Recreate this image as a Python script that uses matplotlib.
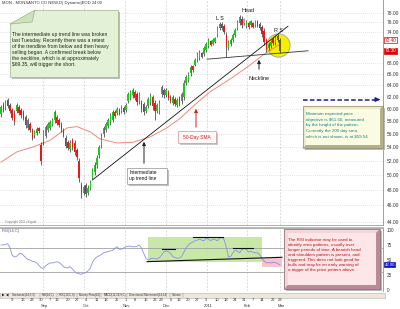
import matplotlib
matplotlib.use("Agg")
import matplotlib.pyplot as plt
import numpy as np
from matplotlib.patches import Rectangle, Polygon
from matplotlib.transforms import blended_transform_factory as blend
from matplotlib.ticker import FixedLocator, NullLocator, NullFormatter

plt.rcParams['font.family'] = ['Liberation Sans', 'DejaVu Sans']

# ---------------- data ----------------
opens = [59.1,60.8,60.2,61.5,60.6,59.8,59.2,59.6,60.3,59.8,
         59.5,58.6,56.9,57.5,56.5,55.6,56.1,56.9,54.3,54.8,
         55.7,56.6,56.9,57.5,58.1,58.6,58.2,57.5,56.6,55.4,
         54.7,53.7,55.0,54.6,53.5,52.0,48.7,47.6,48.6,47.6,
         48.3,49.6,50.4,51.4,52.8,54.3,55.9,56.6,57.2,57.8,
         58.2,59.5,59.2,59.9,59.6,60.1,59.7,61.3,61.8,62.2,
         62.8,62.4,61.2,61.0,60.7,59.6,60.5,61.1,61.9,60.9,
         59.6,59.6,62.4,63.1,62.3,62.8,62.0,61.0,61.6,60.6,
         61.8,61.2,62.0,64.4,64.9,66.1,67.4,67.7,68.6,68.9,
         69.8,69.7,70.4,71.2,72.2,71.7,72.0,73.4,74.8,75.7,
         75.2,73.4,70.8,71.6,72.4,73.4,74.8,75.8,76.8,76.6,
         75.2,75.9,75.4,75.8,75.4,76.2,75.7,75.0,74.2,72.4,
         70.8,71.2,72.7,71.8,73.2,72.4]
highs = [60.6,61.1,61.4,61.8,60.9,60.1,59.8,60.9,60.6,60.1,
         59.8,58.9,58.5,57.8,56.9,56.6,57.1,57.1,54.7,56.6,
         57.4,57.8,58.1,58.5,59.8,58.9,58.5,57.8,56.9,55.8,
         55.0,55.0,55.3,55.0,53.8,52.4,49.1,48.7,48.9,48.7,
         49.3,51.0,51.8,52.8,54.3,56.1,57.2,57.8,58.5,59.3,
         59.8,59.8,60.3,60.1,60.6,60.4,60.9,62.8,63.1,63.5,
         63.1,62.8,62.8,61.4,61.1,60.6,61.9,62.6,62.3,61.4,
         60.9,61.4,64.0,63.5,63.5,63.1,62.3,62.3,61.9,61.8,
         62.1,62.8,64.9,65.8,66.3,67.6,67.6,68.9,70.0,70.4,
         70.0,71.2,72.0,72.8,72.4,72.8,73.0,75.2,76.0,76.0,
         75.6,74.0,72.4,72.8,73.8,74.8,76.5,77.5,77.3,76.9,
         76.5,76.3,76.5,76.0,76.5,76.5,76.0,75.4,74.8,72.8,
         72.0,72.4,73.0,73.4,73.6,72.8]
lows = [58.6,59.4,59.8,60.1,59.3,58.1,57.4,59.3,58.9,58.5,
        58.1,56.9,56.6,56.3,55.0,55.3,55.8,56.1,51.4,54.3,
        55.3,56.3,56.6,57.2,57.7,57.4,57.1,56.3,55.5,53.8,
        53.6,53.3,53.6,52.8,52.1,49.1,47.0,47.3,47.1,47.3,
        48.0,49.3,50.0,51.0,52.4,53.8,55.5,56.3,56.9,57.4,
        57.8,58.5,58.9,58.9,59.3,59.1,59.4,60.9,61.4,61.8,
        61.4,60.6,60.8,59.4,58.9,59.3,60.1,60.6,59.8,58.1,
        59.3,59.1,61.9,61.8,61.9,61.4,60.9,60.6,60.4,60.3,
        60.4,60.8,61.4,64.0,64.5,65.6,66.3,67.4,68.2,68.5,
        68.9,69.3,70.0,70.8,71.2,71.4,71.8,73.0,74.4,74.4,
        73.6,69.1,70.4,71.2,72.0,73.0,74.4,75.4,74.8,75.4,
        74.8,74.6,75.0,74.8,75.0,75.0,74.4,73.0,71.4,70.0,
        70.4,70.8,71.4,71.4,72.0,69.9]
closes = [60.2,59.8,61.1,60.4,59.6,58.5,58.0,60.6,59.3,58.9,
          58.4,57.3,58.1,56.6,55.4,56.3,56.8,56.4,52.0,56.2,
          57.0,57.5,57.8,58.2,59.4,57.7,57.4,56.6,55.8,54.2,
          53.9,54.6,54.0,53.3,52.5,49.6,47.5,48.4,47.5,48.3,
          49.1,50.7,51.4,52.4,54.0,55.7,56.9,57.5,58.2,59.0,
          59.4,58.8,60.0,59.2,60.3,59.4,60.6,62.4,62.8,63.1,
          61.8,61.1,62.4,59.9,59.4,60.3,61.6,62.2,60.4,59.6,
          60.6,61.0,63.6,62.2,63.2,61.8,61.2,61.9,60.8,61.4,
          60.8,62.4,64.4,65.5,66.0,67.3,66.6,68.6,69.7,70.1,
          69.2,70.8,71.6,72.4,71.5,72.5,72.8,74.8,75.7,74.8,
          74.0,71.0,72.0,72.5,73.4,74.4,76.1,77.1,75.4,75.8,
          76.1,75.0,76.2,75.1,76.2,75.3,74.8,73.6,72.0,70.6,
          71.6,72.0,71.8,73.0,72.4,70.3]
rsi = [75,75,76,77,71,58,55,56,60,61,
       58,54,51,50,48,47,45,41,37,36,
       40,43,45,45,46,47,46,43,39,37,
       37,39,35,31,28,27,26,28,29,32,
       36,46,52,55,57,59,62,63,64,65,
       66,69,72,68,68,70,72,73,73,72,
       72,73,75,70,61,53,50,52,53,52,
       52,54,58,63,65,64,61,56,54,53,
       53,56,63,70,75,78,80,82,83,85,
       83,82,86,85,82,85,84,82,86,88,
       84,72,55,56,62,66,65,62,67,69,
       68,63,65,63,62,62,59,53,48,45,
       46,45,46,46,44,42]

sma_idx = [0, 7.2, 14.3, 22, 29.6, 34.1, 39.9, 44.4, 52, 59.2, 66.8, 74.4,
           80.3, 87.4, 93.7, 104, 111.7, 117.5, 125.1]
sma_val = [51.8, 53.3, 54.0, 55.0, 56.9, 57.1, 56.3, 55.2, 54.6, 54.7, 55.5,
           56.9, 58.4, 60.8, 62.8, 65.4, 67.6, 69.5, 71.6]

trend_idx = [41.3, 128.7]
trend_val = [49.4, 75.2]
neck_idx = [92.4, 137.7]
neck_val = [68.7, 70.3]
target_price = 61.50
target_idx = [135.4, 171.2]
highlight_idx, highlight_price = 124.2, 71.4
tag_values = [72.40, 70.30]

price_ticks = [44, 46, 48, 50, 52, 54, 56, 58, 60, 62, 64, 66, 68, 70, 72, 74, 76, 78]
rsi_ticks = [0, 25, 50, 75, 100]

day_pos = [5, 10, 14, 18, 22, 25, 30, 34, 38, 43, 47, 52, 56, 60, 65, 69, 72,
           76, 80, 84, 88, 92, 97, 101, 105, 109, 113, 117, 122, 125]
day_labels = ['9', '16', '23', '30', '7', '13', '20', '27', '4', '11', '18', '25',
              '1', '8', '15', '22', '29', '6', '13', '20', '27', '3', '10', '18',
              '24', '31', '7', '14', '22', '28']
month_pos = [19.7, 38.1, 56.0, 74.0, 92.8, 110.3, 125.6]
month_labels = ['Sep', 'Oct', 'Nov', 'Dec', '2011', 'Feb', 'Mar']
grid_pos = [18.8, 37.2, 55.6, 74.0, 92.4, 110.3, 125.1]

# RSI pattern marks
rsi_box = [65.9, 117.0, 46.7, 88.3]
rsi_pink = [117.0, 126.0, 38.3, 53.3]
rsi_tops = [([72.2, 78.0], [68.3, 68.3]), ([86.1, 99.6], [88.3, 88.3]),
            ([104.0, 113.0], [70.0, 70.0])]
rsi_neck = ([65.5, 126.0], [47.2, 54.5])

# ---------------- figure ----------------
W, H = 400, 309
fig = plt.figure(figsize=(W / 100, H / 100), dpi=100)
fig.patch.set_facecolor('white')


def rect(top, bottom, left=0, right=383):
    return [left / W, 1 - bottom / H, (right - left) / W, (bottom - top) / H]


ax = fig.add_axes(rect(0, 225))
ax2 = fig.add_axes(rect(228, 291))
XL = (-0.45, 171.3)

o = np.array(opens); h = np.array(highs); l = np.array(lows); c = np.array(closes)
n = len(c)
x = np.arange(n)
h = np.maximum(h, np.maximum(o, c))
l = np.minimum(l, np.minimum(o, c))

ax.set_yscale('log')
ax.set_ylim(43.6, 80.8)
ax.set_xlim(*XL)
ax.yaxis.set_major_locator(FixedLocator(price_ticks))
ax.yaxis.set_minor_locator(NullLocator())
ax.yaxis.set_minor_formatter(NullFormatter())
ax.yaxis.tick_right()
ax.set_yticklabels(['' if any(abs(t - v) < 1.2 for v in tag_values) else f'{t:.2f}'
                    for t in price_ticks])
ax.set_xticks(grid_pos)
ax.tick_params(axis='x', labelbottom=False, length=0)
ax.tick_params(axis='y', labelsize=3.5, length=0, pad=2.5, labelcolor='#333333')
ax.grid(axis='y', color='#c8c8c8', ls=(0, (1, 2)), lw=0.5)
ax.grid(axis='x', color='#d0d0d0', ls=(0, (3, 2)), lw=0.5)
for s in ['left', 'top']:
    ax.spines[s].set_visible(False)
ax.spines['right'].set_color('#909090'); ax.spines['right'].set_linewidth(0.6)
ax.spines['bottom'].set_color('#a0a0a0'); ax.spines['bottom'].set_linewidth(0.6)

# highlight circle
ax.scatter([highlight_idx], [highlight_price], s=280, c='#f5f000',
           edgecolors='#a8a8a8', linewidths=0.7, zorder=2)

colors = []
for i in range(n):
    prev = c[i - 1] if i else o[i]
    if c[i] > o[i] and c[i] >= prev:
        colors.append('#1ec81e')
    elif c[i] < o[i] and c[i] <= prev:
        colors.append('#e81818')
    else:
        colors.append('#a8a8a8')
ax.vlines(x, l, h, color='#111111', lw=0.45, zorder=3)
lo_b = np.minimum(o, c)
hi_b = np.maximum(np.maximum(o, c), lo_b * 1.003)
ax.bar(x, hi_b - lo_b, bottom=lo_b, width=0.62, color=colors, lw=0, zorder=4)

ax.plot(sma_idx, sma_val, color='#f08a78', lw=0.7, zorder=2)
ax.plot(trend_idx, trend_val, color='#111111', lw=0.6, zorder=5)
ax.plot(neck_idx, neck_val, color='#333333', lw=0.6, zorder=5)

# target arrow
ax.plot([target_idx[0], target_idx[1] - 2.5], [target_price, target_price],
        color='#1c1c8a', lw=1.1, ls=(0, (3, 1.5)), zorder=6)
ax.annotate('', xy=(target_idx[1], target_price), xytext=(target_idx[1] - 3.5, target_price),
            arrowprops=dict(arrowstyle='-|>', color='#1c1c8a', lw=1.0, mutation_scale=6),
            zorder=6, annotation_clip=False)

# price tags
bt = blend(ax.transAxes, ax.transData)
ax.text(1.004, tag_values[0], f'{tag_values[0]:.2f}', transform=bt, fontsize=3.4,
        va='center', ha='left', color='#e00000', clip_on=False,
        bbox=dict(boxstyle='square,pad=0.15', fc='white', ec='#e00000', lw=0.5))
ax.text(1.004, tag_values[1], f'{tag_values[1]:.2f}', transform=bt, fontsize=3.4,
        va='center', ha='left', color='white', clip_on=False,
        bbox=dict(boxstyle='square,pad=0.15', fc='#e00000', ec='#e00000', lw=0.5))

# ---------------- RSI panel ----------------
ax2.set_xlim(*XL)
ax2.set_ylim(-1.7, 103.3)
ax2.add_patch(Rectangle((rsi_box[0], rsi_box[2]), rsi_box[1] - rsi_box[0],
                        rsi_box[3] - rsi_box[2], fc='#c8e8a8', ec='none', zorder=1))
ax2.add_patch(Rectangle((rsi_pink[0], rsi_pink[2]), rsi_pink[1] - rsi_pink[0],
                        rsi_pink[3] - rsi_pink[2], fc='#f7c4cc', ec='none', zorder=1))
ax2.axhline(70, color='#a0a0a0', lw=0.6, zorder=2)
ax2.axhline(30, color='#a0a0a0', lw=0.6, zorder=2)
ax2.plot(x, rsi, color='#8c8cf0', lw=0.6, zorder=4)
for xs, ys in rsi_tops:
    ax2.plot(xs, ys, color='#111111', lw=0.8, zorder=5)
ax2.plot(rsi_neck[0], rsi_neck[1], color='#111111', lw=0.8, zorder=5)
ax2.yaxis.tick_right()
ax2.set_yticks(rsi_ticks)
ax2.set_yticklabels([str(t) for t in rsi_ticks])
ax2.set_xticks(grid_pos)
ax2.tick_params(axis='x', labelbottom=False, length=0)
ax2.tick_params(axis='y', labelsize=3.3, length=0, pad=2.5, labelcolor='#333333')
ax2.grid(axis='x', color='#d0d0d0', ls=(0, (3, 2)), lw=0.5)
for s in ['left', 'bottom']:
    ax2.spines[s].set_visible(False)
ax2.spines['right'].set_color('#909090'); ax2.spines['right'].set_linewidth(0.6)
ax2.spines['top'].set_color('#a0a0a0'); ax2.spines['top'].set_linewidth(0.6)
bt2 = blend(ax2.transAxes, ax2.transData)
ax2.text(1.004, rsi[-1], f'{rsi[-1]:.2f}', transform=bt2, fontsize=3.1, va='center',
         ha='left', color='white', clip_on=False,
         bbox=dict(boxstyle='square,pad=0.1', fc='#1010d0', ec='#1010d0', lw=0.5))

# ---------------- overlay (pixel coords) ----------------
ov = fig.add_axes([0, 0, 1, 1])
ov.set_xlim(0, W); ov.set_ylim(H, 0); ov.axis('off')

ov.plot([0, 383], [226.5, 226.5], color='#a0a0a0', lw=0.5)
ov.text(2, 3, 'MON - MONSANTO CO NEW,D) Dynamic|EOD 24:00', fontsize=3, va='center',
        color='#333333')
ov.text(5, 222.5, 'Copyright 2011 eSignal', fontsize=2.2, va='center', color='#777777')
ov.text(2, 231, 'RSI(14,C)', fontsize=3, va='center', color='#5050d0')

# tab strip
ov.add_patch(Rectangle((0, 292.5), 385, 5, fc='#ece9d8', ec='#b0b0b0', lw=0.4))
ov.add_patch(Polygon([(2, 293.5), (2, 296.5), (4.5, 295)], fc='#222222', ec='none'))
ov.add_patch(Polygon([(8.5, 293.5), (8.5, 296.5), (6, 295)], fc='#222222', ec='none'))
tabs = ['Stochastic(14,3,3)', 'RSI(14,C)', 'ROC(10,C,0)', 'Money Flow(14)',
        'MACD(12,26,9,C)', 'Directional Movement(14,14)', 'Volume']
tx = 12
for t in tabs:
    ov.text(tx, 295, t, fontsize=2.1, va='center', ha='left', color='#333333')
    tx += len(t) * 1.45 + 4
    ov.plot([tx - 2, tx - 2], [293, 297], color='#888888', lw=0.3)

bx = blend(ax2.transData, ov.transData)
for p, lab in zip(day_pos, day_labels):
    ov.text(p, 300, lab, transform=bx, fontsize=3, ha='center', va='center', color='#333333')
for p, lab in zip(month_pos, month_labels):
    ov.text(p, 305.8, lab, transform=bx, fontsize=3, ha='center', va='center', color='#333333')

# green note
ov.add_patch(Polygon([(37, 12), (120, 12), (120, 79), (12, 79), (12, 26)], fc='#bdbdbd', ec='none'))
ov.add_patch(Polygon([(35, 10), (118, 10), (118, 77), (10, 77), (10, 24)],
                     fc='#e3f1d6', ec='#9fb58a', lw=0.5))
ov.add_patch(Polygon([(10, 24), (35, 10), (32, 22)], fc='#cde2ba', ec='#9fb58a', lw=0.5))
ov.text(12, 32, 'The intermediate up trend line was broken\nlast Tuesday. Recently there was a retest\n'
        'of the trendline from below and then heavy\nselling began. A confirmed break below\n'
        'the neckline, which is at approximately\n$69.35, will trigger the short.',
        fontsize=3.6, va='top', ha='left', linespacing=1.24, color='#1e2a14')

# chart labels
for txt, (px, py) in [('Head', (247.5, 10)), ('L S', (220, 19)), ('R S', (278, 30)),
                      ('Neckline', (259, 78))]:
    ov.text(px, py, txt, fontsize=3.9, ha='center', va='center', color='#111111')
ov.annotate('', xy=(259, 57), xytext=(259, 72),
            arrowprops=dict(arrowstyle='-|>', color='#222222', lw=0.7, mutation_scale=5))

# intermediate label
ov.add_patch(Rectangle((129, 170), 40, 16, fc='#c0c0c0', ec='none'))
ov.add_patch(Rectangle((127, 168), 40, 16, fc='white', ec='#909090', lw=0.5))
ov.text(129, 170, 'Intermediate\nup trend line', fontsize=3.5, va='top', ha='left',
        linespacing=1.35, color='#111111')
ov.annotate('', xy=(144, 139), xytext=(144, 166),
            arrowprops=dict(arrowstyle='-|>', color='#222222', lw=0.7, mutation_scale=5))

# 50-day SMA label
ov.add_patch(Rectangle((180, 133), 38, 12, fc='#c8c8c8', ec='none'))
ov.add_patch(Rectangle((178, 131), 38, 12, fc='#fff8f8', ec='#d89090', lw=0.5))
ov.text(197, 137, '50-Day SMA', fontsize=3.5, va='center', ha='center', color='#d02020')
ov.annotate('', xy=(196, 106), xytext=(196, 130),
            arrowprops=dict(arrowstyle='-|>', color='#d02020', lw=0.7, mutation_scale=5))


def bevel_box(x0, y0, x1, y1, b, light, dark, inner, edge):
    ov.add_patch(Rectangle((x0 + 2, y0 + 2), x1 - x0, y1 - y0, fc='#b8b8b8', ec='none'))
    ov.add_patch(Polygon([(x0, y0), (x1, y0), (x1 - b, y0 + b), (x0 + b, y0 + b),
                          (x0 + b, y1 - b), (x0, y1)], fc=light, ec='none'))
    ov.add_patch(Polygon([(x1, y0), (x1, y1), (x0, y1), (x0 + b, y1 - b),
                          (x1 - b, y1 - b), (x1 - b, y0 + b)], fc=dark, ec='none'))
    ov.add_patch(Rectangle((x0 + b, y0 + b), x1 - x0 - 2 * b, y1 - y0 - 2 * b, fc=inner,
                           ec='none'))
    ov.add_patch(Rectangle((x0, y0), x1 - x0, y1 - y0, fc='none', ec=edge, lw=0.5))


bevel_box(303, 106, 383, 148, 3, '#ecebd0', '#b4b088', '#fbfbe4', '#8c8a66')
ov.text(306, 112.5, 'Minimum expected price\nobjective is $61.50, measured\n'
        'by the height of the pattern.\nCurrently the 200 day sma,\n'
        'which is not shown, is at $59.54',
        fontsize=3.2, va='top', ha='left', linespacing=1.48, color='#128080')

bevel_box(284, 229, 380, 289, 4, '#f3d6da', '#b88c94', '#fde6e8', '#8a6068')
ov.text(288, 237.5, 'The RSI indicator may be used to\nidentify area patterns, usually over\n'
        'longer periods of time. A bearish head\nand shoulders pattern is present, and\n'
        'triggered. This does not look good for\nbulls and may be an early warning of\n'
        'a trigger of the price pattern above.',
        fontsize=3.2, va='top', ha='left', linespacing=1.35, color='#c01010')

fig.savefig('out.png', dpi=100, facecolor='white')
